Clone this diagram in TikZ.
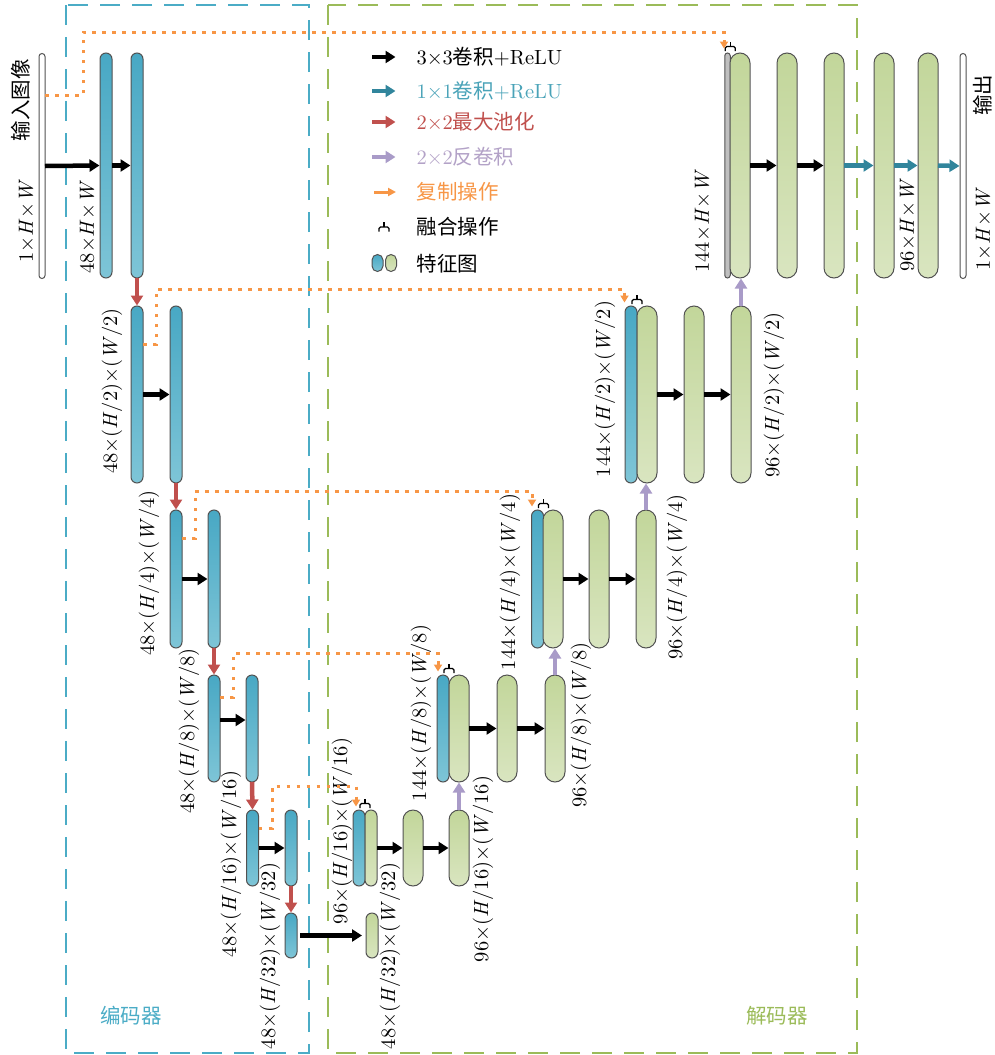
\documentclass[tikz,border=0pt]{standalone}
\usepackage{fontspec}
\setmainfont{lmroman10-regular.otf}[ItalicFont=lmroman10-italic.otf, BoldFont=lmroman10-bold.otf]
\newfontfamily\cjk{Noto Sans CJK SC}
\newcommand\labsize{\fontsize{20.5}{24}\selectfont}
\newcommand\cjksize{\fontsize{20.5}{24}\selectfont\cjk}
\newcommand\dimlab[2]{#1×(\textit{H}/#2)×(\textit{W}/#2)}
\newcommand\fulllab[1]{#1×\textit{H}×\textit{W}}
\usetikzlibrary{arrows.meta}
\definecolor{bluT}{HTML}{48A8C4}
\definecolor{bluB}{HTML}{7EC5D7}
\definecolor{grnT}{HTML}{C2D69A}
\definecolor{grnB}{HTML}{D9E5C0}
\definecolor{cred}{HTML}{C0504D}
\definecolor{cteal}{HTML}{31859C}
\definecolor{ctealtxt}{HTML}{4AA3B8}
\definecolor{cpurp}{HTML}{A99BC8}
\definecolor{cpurptxt}{HTML}{B3A2C7}
\definecolor{corange}{HTML}{F79646}
\definecolor{cblue}{HTML}{4BACC6}
\definecolor{cgreen}{HTML}{9BBB59}
\begin{document}
\begin{tikzpicture}[x=1pt,y=-1pt,
  font=\labsize,
  bar/.style={draw=black!68, line width=1pt, inner sep=0pt, outer sep=0pt, minimum width=12pt, rounded corners=6pt},
  bb/.style={bar, top color=bluT, bottom color=bluB},
  gb/.style={bar, top color=grnT, bottom color=grnB},
  wb/.style={bar, fill=white, minimum width=6pt, rounded corners=3pt},
  graybar/.style={bar, fill=black!25, minimum width=5.5pt, rounded corners=2.75pt},
  wd/.style={minimum width=20pt, rounded corners=10pt},
  hA/.style={minimum height=225pt},
  hB/.style={minimum height=177pt},
  hC/.style={minimum height=138pt},
  hD/.style={minimum height=107pt},
  hE/.style={minimum height=76pt},
  hF/.style={minimum height=45pt},
  lab/.style={rotate=90, inner sep=0pt},
  cjklab/.style={font=\cjksize},
  legtext/.style={anchor=west},
  arrconv/.style={line width=4.5pt, -{Triangle[width=12pt,length=10pt]}, black, shorten >=0.5pt},
  arrteal/.style={arrconv, cteal},
  arrpool/.style={arrconv, cred},
  arrup/.style={arrconv, cpurp},
  arrcopy/.style={corange, line width=3pt, dash pattern=on 3.5pt off 6.5pt, -{Triangle[width=8pt,length=7pt]}},
  regionbox/.style={line width=1.3pt, dash pattern=on 20pt off 12pt},
  mergesym/.pic={\draw[line width=1.1pt, rounded corners=1.5pt] (-5,4.5) -- (-5,0) -- (5,0) -- (5,4.5); \draw[line width=1.1pt] (0,0) -- (0,-5);}
]
\useasboundingbox (0,0) rectangle (995,1055);

% region boxes
\draw[regionbox, cblue] (66,5) rectangle (309,1053);
\draw[regionbox, cgreen] (328,5) rectangle (857,1053);
\node[cjklab, text=cblue] (enclab) at (131,1016) {编码器};
\node[cjklab, text=cgreen] (declab) at (777,1016) {解码器};

% input
\node[wb, hA] (in) at (42,166) {};
\node[lab, cjklab] (inlab1) at (21,100) {输入图像};
\node[lab] (inlab2) at (26,221) {\fulllab{1}};

% encoder
\node[bb, hA] (e1a) at (106,165.5) {};
\node[bb, hA] (e1b) at (137,165.5) {};
\node[bb, hB] (e2a) at (137,394.5) {};
\node[bb, hB] (e2b) at (176,394.5) {};
\node[bb, hC] (e3a) at (176,579) {};
\node[bb, hC] (e3b) at (214,579) {};
\node[bb, hD] (e4a) at (214,728.5) {};
\node[bb, hD] (e4b) at (252,728.5) {};
\node[bb, hE] (e5a) at (252.5,848) {};
\node[bb, hE] (e5b) at (291,848) {};
\node[bb, hF] (e6) at (291,935.5) {};

\node[lab] (e1lab) at (87,227) {\fulllab{48}};
\node[lab] (e2lab) at (112,391) {\dimlab{48}{2}};
\node[lab] (e3lab) at (149,573) {\dimlab{48}{4}};
\node[lab] (e4lab) at (189,731) {\dimlab{48}{8}};
\node[lab] (e5lab) at (231,864) {\dimlab{48}{16}};
\node[lab] (e6lab) at (270,956) {\dimlab{48}{32}};

% decoder
\node[gb, hF] (d6) at (372,935.5) {};
\node[bb, hE] (d5a) at (359,848) {};
\node[gb, hE] (d5b) at (371,848) {};
\node[gb, wd, hE] (d5c) at (413,848) {};
\node[gb, wd, hE] (d5d) at (459,848) {};

\node[bb, hD] (d4a) at (443,728.5) {};
\node[gb, wd, hD] (d4b) at (459,728.5) {};
\node[gb, wd, hD] (d4c) at (507,728.5) {};
\node[gb, wd, hD] (d4d) at (555,728.5) {};

\node[bb, hC] (d3a) at (537.5,579) {};
\node[gb, wd, hC] (d3b) at (553,579) {};
\node[gb, wd, hC] (d3c) at (599,579) {};
\node[gb, wd, hC] (d3d) at (646,579) {};

\node[bb, hB] (d2a) at (631,394.5) {};
\node[gb, wd, hB] (d2b) at (647,394.5) {};
\node[gb, wd, hB] (d2c) at (694,394.5) {};
\node[gb, wd, hB] (d2d) at (741,394.5) {};

\node[graybar, hA] (d1a) at (727.5,165.5) {};
\node[gb, wd, hA] (d1b) at (740,165.5) {};
\node[gb, wd, hA] (d1c) at (787,165.5) {};
\node[gb, wd, hA] (d1d) at (834,165.5) {};
\node[gb, wd, hA] (d1e) at (884,165.5) {};
\node[gb, wd, hA] (d1f) at (928,165.5) {};
\node[wb, hA] (out) at (963,166) {};

\node[lab] (d6lab) at (390,956) {\dimlab{48}{32}};
\node[lab] (d5lab) at (342,831) {\dimlab{96}{16}};
\node[lab] (d5lab2) at (483,869) {\dimlab{96}{16}};
\node[lab] (d4lab) at (421,713) {\dimlab{144}{8}};
\node[lab] (d4lab2) at (581,725) {\dimlab{96}{8}};
\node[lab] (d3lab) at (510,582) {\dimlab{144}{4}};
\node[lab] (d3lab2) at (677,577) {\dimlab{96}{4}};
\node[lab] (d2lab) at (605,389) {\dimlab{144}{2}};
\node[lab] (d2lab2) at (774,395) {\dimlab{96}{2}};
\node[lab] (d1lab) at (702,221) {\fulllab{144}};
\node[lab] (d1lab2) at (907,225) {\fulllab{96}};
\node[lab, cjklab] (outlab1) at (983,95) {输出};
\node[lab] (outlab2) at (983,229) {\fulllab{1}};

% merge symbols
\pic at ([yshift=6.5pt]d1a.north east) {mergesym};
\pic at ([yshift=6.5pt]d2a.north east) {mergesym};
\pic at ([yshift=6.5pt]d3a.north east) {mergesym};
\pic at ([yshift=6.5pt]d4a.north east) {mergesym};
\pic at ([yshift=6.5pt]d5a.north east) {mergesym};

% encoder arrows
\draw[arrconv] (in.east) -- (e1a.west);
\draw[arrconv] (e1a.east) -- (e1b.west);
\draw[arrconv] (e2a.east) -- (e2b.west);
\draw[arrconv] (e3a.east) -- (e3b.west);
\draw[arrconv] ([yshift=8.5pt]e4a.east) -- ([yshift=8.5pt]e4b.west);
\draw[arrconv] (e5a.east) -- (e5b.west);
\draw[arrpool] (e1b.south) -- (e2a.north);
\draw[arrpool] (e2b.south) -- (e3a.north);
\draw[arrpool] (e3b.south) -- (e4a.north);
\draw[arrpool] (e4b.south) -- (e5a.north);
\draw[arrpool] (e5b.south) -- (e6.north);
\draw[arrconv, shorten <=3pt, shorten >=4pt] (e6.east) -- (d6.west);

% decoder arrows
\draw[arrconv] (d5b.east) -- (d5c.west);
\draw[arrconv] (d5c.east) -- (d5d.west);
\draw[arrconv] (d4b.east) -- (d4c.west);
\draw[arrconv] (d4c.east) -- (d4d.west);
\draw[arrconv] (d3b.east) -- (d3c.west);
\draw[arrconv] (d3c.east) -- (d3d.west);
\draw[arrconv] (d2b.east) -- (d2c.west);
\draw[arrconv] (d2c.east) -- (d2d.west);
\draw[arrconv] (d1b.east) -- (d1c.west);
\draw[arrconv] (d1c.east) -- (d1d.west);
\draw[arrteal] (d1d.east) -- (d1e.west);
\draw[arrteal] (d1e.east) -- (d1f.west);
\draw[arrteal] (d1f.east) -- (out.west);
\draw[arrup] (d5d.north) -- (d5d.north |- d4b.south);
\draw[arrup] (d4d.north) -- (d4d.north |- d3b.south);
\draw[arrup] (d3d.north) -- (d3d.north |- d2b.south);
\draw[arrup] (d2d.north) -- (d2d.north |- d1b.south);

% copy operations
\draw[arrcopy] (in.east |- 0,95) -| (83,32) -| ([xshift=-3.5pt,yshift=4.5pt]d1a.north);
\draw[arrcopy] (e2a.east |- 0,344) -| (156,289) -| ([xshift=-0.5pt,yshift=3.5pt]d2a.north west);
\draw[arrcopy] (e3a.east |- 0,538) -| (195,491) -| ([xshift=0.5pt,yshift=3.5pt]d3a.north west);
\draw[arrcopy] (e4a.east |- 0,697) -| (233,653) -| ([xshift=1pt,yshift=3.5pt]d4a.north west);
\draw[arrcopy] (e5a.east |- 0,828) -| (272,786) -| ([xshift=3pt,yshift=3.5pt]d5a.north west);

% legend
\draw[arrconv] (372,57) -- (396,57);
\draw[arrteal] (372,91) -- (396,91);
\draw[arrpool] (372,122) -- (396,122);
\draw[arrup] (372,157) -- (396,157);
\draw[corange, line width=3pt, -{Triangle[width=8pt,length=8pt]}] (374,192) -- (396,192);
\pic at (384,227) {mergesym};
\node[bb, minimum width=11pt, minimum height=17pt, rounded corners=5.5pt] (lgb) at (377.5,263) {};
\node[gb, minimum width=11pt, minimum height=17pt, rounded corners=5.5pt] (lgg) at (391,263) {};
\node[legtext] (lt1) at (413,57) {3×3{\cjk 卷积}+ReLU};
\node[legtext, text=ctealtxt] (lt2) at (413,91) {1×1{\cjk 卷积}+ReLU};
\node[legtext, text=cred] (lt3) at (413,122) {2×2{\cjk 最大池化}};
\node[legtext, text=cpurptxt] (lt4) at (413,157) {2×2{\cjk 反卷积}};
\node[legtext, text=corange] (lt5) at (413,192) {\cjk 复制操作};
\node[legtext] (lt6) at (413,227) {\cjk 融合操作};
\node[legtext] (lt7) at (413,264) {\cjk 特征图};
\end{tikzpicture}
\end{document}
